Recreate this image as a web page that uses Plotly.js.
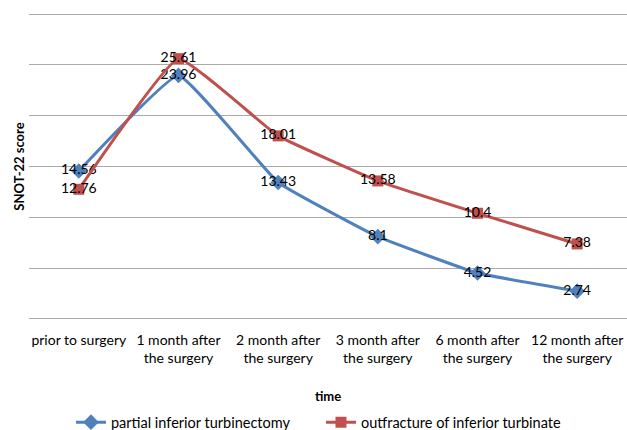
<!DOCTYPE html>
<html>
<head>
<meta charset="utf-8">
<script src="https://cdn.plot.ly/plotly-3.0.1.min.js"></script>
<style>html,body{margin:0;padding:0;background:#fff;}#chart{width:627px;height:430px;}</style>
</head>
<body>
<div id="chart"></div>
<script>
var categories = ["prior to surgery", "1 month after<br>the surgery", "2 month after<br>the surgery", "3 month after<br>the surgery", "6 month after<br>the surgery", "12 month after<br>the surgery"];
var partialValues = [14.56, 23.96, 13.43, 8.1, 4.52, 2.74];
var outfractureValues = [12.76, 25.61, 18.01, 13.58, 10.4, 7.38];
var seriesNames = ["partial inferior turbinectomy", "outfracture of inferior turbinate"];

var font = "Lato, 'Open Sans', 'Liberation Sans', sans-serif";

var traces = [
  {
    x: categories, y: partialValues, name: seriesNames[0],
    type: "scatter", mode: "lines+markers+text",
    line: {color: "#4F81BD", width: 3, shape: "spline", smoothing: 0.3},
    marker: {symbol: "diamond", size: 12, color: "#4F81BD"},
    text: partialValues.map(String), textposition: "middle center",
    textfont: {family: font, size: 14, color: "#000"},
    cliponaxis: false
  },
  {
    x: categories, y: outfractureValues, name: seriesNames[1],
    type: "scatter", mode: "lines+markers+text",
    line: {color: "#C0504D", width: 3, shape: "spline", smoothing: 0.3},
    marker: {symbol: "square", size: 11, color: "#C0504D"},
    text: outfractureValues.map(String), textposition: "middle center",
    textfont: {family: font, size: 14, color: "#000"},
    cliponaxis: false
  }
];

var layout = {
  width: 627, height: 430,
  margin: {l: 29, r: 0, t: 13, b: 110, autoexpand: false},
  paper_bgcolor: "#fff", plot_bgcolor: "#fff",
  font: {family: font, size: 14, color: "#000"},
  showlegend: true,
  legend: {
    orientation: "h", x: 0.0702, xanchor: "left", y: -0.333, yanchor: "middle",
    font: {family: font, size: 14.5, color: "#000"},
    entrywidth: 205, entrywidthmode: "pixels", itemwidth: 30
  },
  xaxis: {
    type: "category", range: [-0.5, 5.5],
    showgrid: false, zeroline: false, showline: false,
    ticks: "outside", ticklen: 7, tickcolor: "rgba(0,0,0,0)",
    tickfont: {family: font, size: 14, color: "#000"},
    title: {text: "<b>time</b>", font: {family: font, size: 13, color: "#000"}, standoff: 26}
  },
  yaxis: {
    range: [-0.1, 30.1], tickvals: [0, 5, 10, 15, 20, 25, 30], showticklabels: false,
    showgrid: true, gridcolor: "#ababab", gridwidth: 1, zeroline: false,
    title: {text: "<b>SNOT-22 score</b>", font: {family: font, size: 13, color: "#000"}, standoff: 0}
  }
};

Plotly.newPlot("chart", traces, layout, {displayModeBar: false, staticPlot: true});
</script>
</body>
</html>
